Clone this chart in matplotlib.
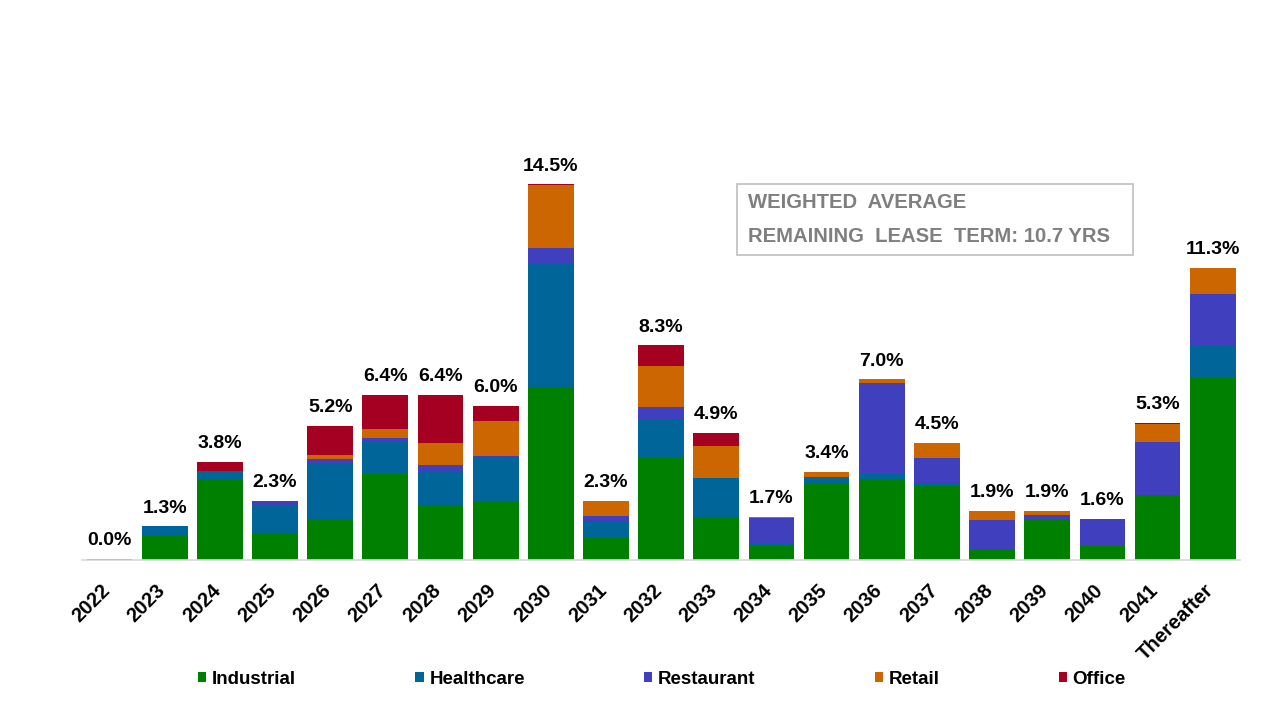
import matplotlib
matplotlib.use("Agg")
import matplotlib.pyplot as plt
import matplotlib.transforms as mtransforms
from matplotlib.patches import Rectangle
import numpy as np

plt.rcParams['font.family'] = ['Liberation Sans', 'DejaVu Sans']

# Dados (% of annualized base rent expiring)
years = ['2022', '2023', '2024', '2025', '2026', '2027', '2028', '2029', '2030', '2031',
         '2032', '2033', '2034', '2035', '2036', '2037', '2038', '2039', '2040', '2041',
         'Thereafter']
industrial = [0.00, 0.95, 3.10, 1.00, 1.60, 3.33, 2.13, 2.23, 6.70, 0.84,
              3.96, 1.66, 0.55, 2.95, 3.13, 2.87, 0.38, 1.55, 0.55, 2.50, 7.05]
healthcare = [0.04, 0.35, 0.35, 1.07, 2.12, 1.25, 1.28, 1.76, 4.78, 0.68,
              1.48, 1.51, 0.09, 0.26, 0.22, 0.12, 0.00, 0.00, 0.00, 0.00, 1.24]
restaurant = [0.00, 0.00, 0.00, 0.23, 0.20, 0.14, 0.27, 0.02, 0.58, 0.18,
              0.48, 0.02, 1.00, 0.00, 3.49, 0.95, 1.15, 0.20, 1.05, 2.07, 2.00]
retail = [0.00, 0.00, 0.00, 0.00, 0.16, 0.35, 0.85, 1.38, 2.44, 0.58,
          1.59, 1.20, 0.03, 0.19, 0.15, 0.58, 0.37, 0.15, 0.00, 0.70, 1.00]
office = [0.00, 0.00, 0.35, 0.00, 1.12, 1.31, 1.86, 0.58, 0.03, 0.00,
          0.79, 0.54, 0.00, 0.00, 0.00, 0.00, 0.00, 0.00, 0.00, 0.03, 0.00]

series = [('Industrial', industrial, '#008000'),
          ('Healthcare', healthcare, '#006699'),
          ('Restaurant', restaurant, '#4040BF'),
          ('Retail', retail, '#CC6600'),
          ('Office', office, '#A50021')]

# Cria a figura
fig = plt.figure(figsize=(12.8, 7.2), dpi=100)
ax = fig.add_axes([0.064, 0.2222, 0.905, 0.5747])

x = np.arange(len(years))
base = np.zeros(len(years))
for nome, vals, cor in series:
    ax.bar(x, vals, width=0.83, bottom=base, color=cor, label=nome, linewidth=0)
    base = base + np.array(vals)

# Rotulos de total
for xi, tot in zip(x, base):
    ax.annotate(f'{tot:.1f}%', (xi, tot), xytext=(0, 7), textcoords='offset points',
                ha='center', va='bottom', fontsize=14, fontweight='bold', color='black')

ax.set_xlim(-0.5, len(years) - 0.5)
ax.set_ylim(0, 16)
ax.set_yticks([])
for s in ['top', 'right', 'left']:
    ax.spines[s].set_visible(False)
ax.spines['bottom'].set_color('#d9d9d9')
ax.spines['bottom'].set_linewidth(1.2)

ax.set_xticks(x)
ax.set_xticklabels(years, rotation=45, ha='right', va='top', rotation_mode='anchor',
                   fontsize=14.5, fontweight='bold')
ax.tick_params(axis='x', length=0, pad=15)
desloc = mtransforms.ScaledTranslation(-9 / 100, 0, fig.dpi_scale_trans)
for lbl in ax.get_xticklabels():
    lbl.set_transform(lbl.get_transform() + desloc)

# Caixa de texto
fig.patches.append(Rectangle((737 / 1280, 1 - 255 / 720), 396 / 1280, 71 / 720,
                             transform=fig.transFigure, fill=False,
                             edgecolor='#bfbfbf', linewidth=1.2))
fig.text(748 / 1280, 1 - 203 / 720, 'WEIGHTED  AVERAGE', fontsize=14.6, fontweight='bold',
         color='#7f7f7f', ha='left', va='center')
fig.text(748 / 1280, 1 - 237 / 720, 'REMAINING  LEASE  TERM: 10.7 YRS', fontsize=14.6,
         fontweight='bold', color='#7f7f7f', ha='left', va='center')

# Legenda
fig.legend(loc='center', bbox_to_anchor=(662 / 1280, 1 - 679 / 720), ncol=5,
           frameon=False, prop={'size': 13.5, 'weight': 'bold'},
           handlelength=0.45, handleheight=0.45, handletextpad=0.3,
           columnspacing=6.35)

fig.savefig('out.png', dpi=100)
